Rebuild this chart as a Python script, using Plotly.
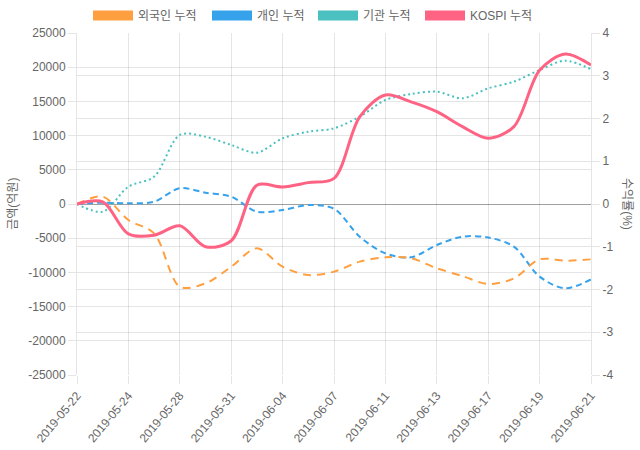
import plotly.graph_objects as go

dates = ["2019-05-22", "2019-05-23", "2019-05-24", "2019-05-27", "2019-05-28",
         "2019-05-30", "2019-05-31", "2019-06-03", "2019-06-04", "2019-06-05",
         "2019-06-07", "2019-06-10", "2019-06-11", "2019-06-12", "2019-06-13",
         "2019-06-14", "2019-06-17", "2019-06-18", "2019-06-19", "2019-06-20",
         "2019-06-21"]
tick_dates = dates[::2]

foreign = [0, 1070, -2340, -4290, -12090, -11600, -9170, -6480, -9170, -10380,
           -9890, -8430, -7800, -7940, -9400, -10530, -11700, -10870, -8090, -8290, -8090]
individual = [0, 190, 100, 340, 2300, 1650, 1070, -1120, -880, -150,
              -700, -4780, -7210, -7800, -6000, -4780, -4900, -6240, -10620, -12330, -11010]
institution = [0, -1120, 2530, 4000, 10090, 9840, 8630, 7500, 9600, 10570,
               11060, 12770, 15200, 16080, 16420, 15450, 16910, 17880, 19590, 20950, 19690]
kospi = [0, 0.05, -0.7, -0.73, -0.51, -1.0, -0.86, 0.44, 0.4, 0.5,
         0.6, 2.04, 2.55, 2.39, 2.16, 1.81, 1.54, 1.81, 3.13, 3.51, 3.25]

left_ticks = list(range(-25000, 25001, 5000))
left_labels = [str(v) for v in left_ticks]
right_ticks = list(range(-4, 5))
right_labels = [str(v) for v in right_ticks]

ORANGE = "rgb(255,159,64)"
BLUE = "rgb(54,162,235)"
TEAL = "rgb(75,192,192)"
PINK = "rgb(255,99,132)"
GRID = "rgba(0,0,0,0.1)"
TXT = "#666666"
FONT = "Liberation Sans, Noto Sans CJK KR, sans-serif"

# plot area in pixels: x 77..591, y 33..375
PL, PR = 77, 591

def px_to_paper(px):
    return (px - PL) / (PR - PL)

# series: name, values, colour, dash, width, axis, legend id, legend box start px
series = [
    ("KOSPI 누적", kospi, PINK, "solid", 3, "y2", "legend4", 425),
    ("기관 누적", institution, TEAL, "2px,3px", 2, "y", "legend3", 318),
    ("개인 누적", individual, BLUE, "6px,4px", 2, "y", "legend2", 212),
    ("외국인 누적", foreign, ORANGE, "8px,6px", 2, "y", "legend", 93),
]

fig = go.Figure()
legends = {}
for name, vals, color, dash, w, ax, lg, bx in series:
    fig.add_trace(go.Scatter(
        x=dates, y=vals, name=name, yaxis=ax, mode="lines",
        line=dict(color=color, width=w, dash=dash, shape="spline", smoothing=0.9),
        showlegend=False, hoverinfo="skip"))
    fig.add_trace(go.Scatter(
        x=[None], y=[None], name=name, yaxis=ax, mode="lines",
        line=dict(color=color, width=12, dash="solid"),
        legend=lg, showlegend=True))
    legends[lg] = dict(orientation="h", x=px_to_paper(bx - 5), xanchor="left",
                       y=1.051, yanchor="middle", font=dict(size=12, color=TXT),
                       itemwidth=40, bgcolor="rgba(0,0,0,0)")

fig.update_layout(
    width=640, height=450,
    margin=dict(l=77, r=49, t=33, b=75, autoexpand=False),
    paper_bgcolor="white", plot_bgcolor="white",
    font=dict(family=FONT, size=12, color=TXT),
    **legends,
    xaxis=dict(type="category", categoryorder="array", categoryarray=dates,
               range=[0, len(dates) - 1], tickmode="array", tickvals=tick_dates,
               ticktext=tick_dates, tickangle=-50, showgrid=True, gridcolor=GRID,
               ticks="outside", ticklen=8, tickcolor=GRID, showline=False,
               zeroline=False, automargin=False, tickfont=dict(size=12, color=TXT)),
    yaxis=dict(range=[-25000, 25000], tickmode="array", tickvals=left_ticks,
               ticktext=left_labels,
               showgrid=True, gridcolor=GRID, zeroline=True,
               zerolinecolor="rgba(0,0,0,0.3)", zerolinewidth=1,
               ticks="outside", ticklen=8, tickcolor=GRID, showline=True,
               linecolor=GRID, automargin=False, tickfont=dict(size=12, color=TXT)),
    yaxis2=dict(range=[-4, 4], tickmode="array", tickvals=right_ticks,
                ticktext=right_labels, overlaying="y",
                side="right", showgrid=True, gridcolor=GRID, zeroline=False,
                ticks="outside", ticklen=8, tickcolor=GRID, showline=True,
                linecolor=GRID, automargin=False, tickfont=dict(size=12, color=TXT)),
    annotations=[
        dict(text="금액(억원)", xref="paper", yref="paper", x=-0.125, y=0.5,
             xanchor="center", yanchor="middle", textangle=-90, showarrow=False,
             font=dict(size=12, color=TXT)),
        dict(text="수익률(%)", xref="paper", yref="paper", x=1.07, y=0.5,
             xanchor="center", yanchor="middle", textangle=90, showarrow=False,
             font=dict(size=12, color=TXT)),
    ],
)

fig.write_html("out.html", config={"displayModeBar": False},
               post_script="document.body.style.margin='0px';document.body.style.padding='0px';")
